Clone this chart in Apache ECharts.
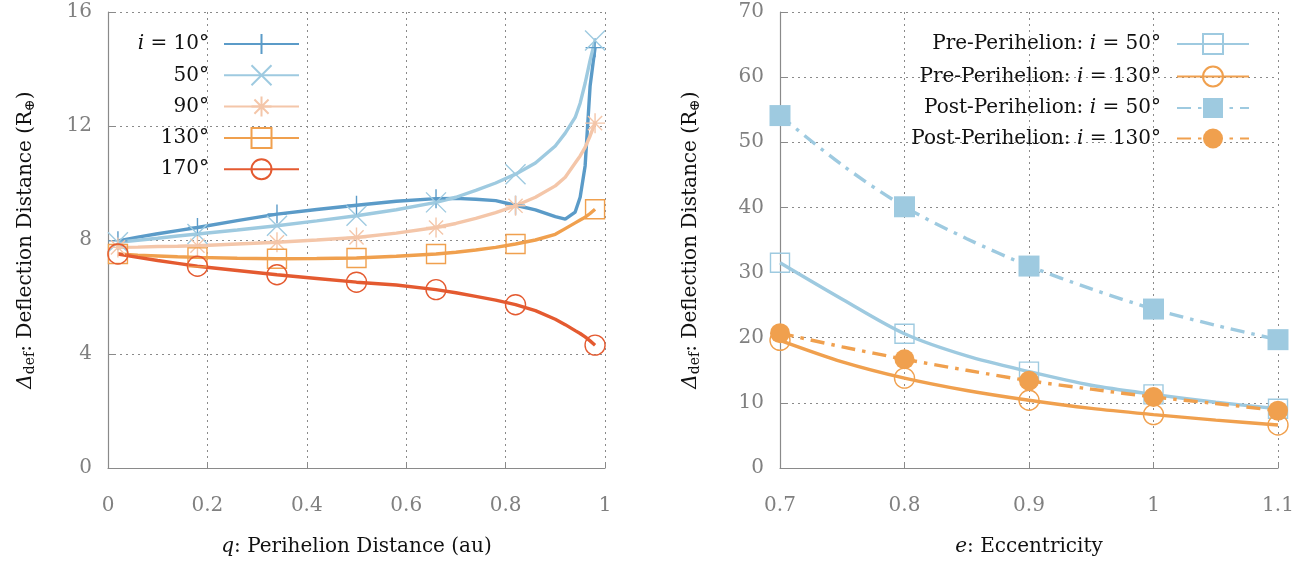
<!DOCTYPE html>
<html><head><meta charset="utf-8">
<script src="https://cdn.jsdelivr.net/npm/echarts@6/dist/echarts.min.js"></script>
<style>html,body{margin:0;padding:0;background:#fff}#c{width:1314px;height:562px}</style>
</head><body><div id="c"></div>
<script>
// ---- Left panel data: deflection distance vs perihelion distance ----
const qGrid = [0.02,0.06,0.10,0.14,0.18,0.26,0.34,0.42,0.50,0.58,0.66,0.70,0.74,0.78,0.82,0.86,0.90,0.92,0.94,0.95,0.96,0.97,0.98];
const markerQ = [0.02,0.18,0.34,0.50,0.66,0.82,0.98];
const inc10  = [7.97,8.10,8.22,8.33,8.44,8.68,8.91,9.07,9.22,9.36,9.45,9.46,9.43,9.38,9.22,9.06,8.82,8.73,8.98,9.50,10.6,13.4,14.75];
const inc50  = [7.92,7.99,8.06,8.14,8.21,8.35,8.50,8.67,8.85,9.06,9.32,9.50,9.74,10.0,10.31,10.70,11.3,11.75,12.3,12.8,13.5,14.3,15.0];
const inc90  = [7.74,7.75,7.77,7.78,7.80,7.86,7.92,8.00,8.09,8.24,8.44,8.58,8.76,8.96,9.20,9.50,9.90,10.2,10.7,10.95,11.25,11.65,12.1];
const inc130 = [7.51,7.47,7.44,7.41,7.39,7.36,7.34,7.35,7.37,7.43,7.51,7.57,7.65,7.74,7.86,8.00,8.20,8.40,8.60,8.70,8.80,8.93,9.08];
const inc170 = [7.51,7.39,7.28,7.18,7.08,6.93,6.78,6.65,6.52,6.42,6.26,6.15,6.02,5.89,5.73,5.52,5.22,5.03,4.82,4.72,4.60,4.46,4.31];
const leftNames = ['10°','50°','90°','130°','170°'];
const leftYTicks = [0,4,8,12,16];

// ---- Right panel data: deflection distance vs eccentricity ----
const eccGrid = [0.70,0.75,0.80,0.85,0.90,0.95,1.00,1.05,1.10];
const markerE = [0.7,0.8,0.9,1.0,1.1];
const pre50   = [31.5,25.9,20.6,17.2,14.8,12.7,11.3,10.1,9.1];
const pre130  = [19.6,16.3,13.8,11.9,10.4,9.15,8.2,7.35,6.6];
const post50  = [54.1,46.5,40.1,35.2,31.0,27.5,24.4,21.9,19.7];
const post130 = [20.7,18.6,16.7,15.0,13.4,12.1,10.9,9.9,8.8];
const rightNames = ['Pre-Perihelion: i = 50°','Pre-Perihelion: i = 130°','Post-Perihelion: i = 50°','Post-Perihelion: i = 130°'];

const FONT = 'DejaVu Serif';
const FS = 20;
const LW = 3.4;
const C = {dblue:'#5b9bc8', lblue:'#9ecae0', peach:'#f4c6a9', orange:'#f0a04e', red:'#e45a30'};
const GRIDC = '#8a8a8a';

const symPlus  = 'path://M0,10L20,10M10,0L10,20';
const symCross = 'path://M0,0L20,20M20,0L0,20';
const symStar  = 'path://M0,10L20,10M10,0L10,20M2.93,2.93L17.07,17.07M17.07,2.93L2.93,17.07';

function withMarkers(grid, markers, vals){
  return grid.map((x,i)=>{
    const isM = markers.some(m=>Math.abs(m-x)<1e-9);
    return isM ? {value:[x,vals[i]]} : {value:[x,vals[i]], symbol:'none'};
  });
}
function leftSeries(name, vals, color, symbol, size){
  return {
    type:'line', name, xAxisIndex:0, yAxisIndex:0,
    data:withMarkers(qGrid, markerQ, vals), symbol, symbolSize:size, showSymbol:true, showAllSymbol:true,
    lineStyle:{color, width:LW},
    itemStyle:{color:'rgba(0,0,0,0)', borderColor:color, borderWidth:1.4},
    emphasis:{disabled:true}, z:2
  };
}
function rightSeries(name, vals, color, symbol, size, filled, dashed){
  return {
    type:'line', name, xAxisIndex:1, yAxisIndex:1,
    data:withMarkers(eccGrid, markerE, vals), symbol, symbolSize:size, showSymbol:true, showAllSymbol:true,
    smooth:0.3,
    lineStyle:{color, width:LW, type: dashed ? [14,7,3.5,7] : 'solid'},
    itemStyle: filled ? {color, borderColor:color, borderWidth:0} : {color:'rgba(0,0,0,0)', borderColor:color, borderWidth:1.4},
    emphasis:{disabled:true}, z: filled?3:2
  };
}

const axisLbl = {color:'#808080', fontFamily:FONT, fontSize:FS};
const nameStyle = {color:'#111', fontFamily:FONT, fontSize:FS,
  rich:{it:{fontStyle:'italic', fontFamily:FONT, fontSize:FS, color:'#111'},
        sub:{fontFamily:FONT, fontSize:14, color:'#111', verticalAlign:'bottom', padding:[9,0,0,0]}}};
const yName = '{it|Δ}{sub|def}: Deflection Distance (R{sub|⊕})';
function xAxisCfg(idx, min, max, interval, name){
  return {type:'value', gridIndex:idx, min, max, interval, name, nameLocation:'middle', nameGap:69,
    nameTextStyle:nameStyle,
    axisLine:{show:true, lineStyle:{color:GRIDC, width:1.2}}, axisTick:{show:true, inside:true, length:6, lineStyle:{color:GRIDC}},
    axisLabel:{...axisLbl, margin:28},
    splitLine:{show:true, lineStyle:{color:GRIDC, type:[2,4], width:1}}};
}
function yAxisCfg(idx, min, max, interval, gap){
  return {type:'value', gridIndex:idx, min, max, interval, name:yName, nameLocation:'middle', nameGap:gap, nameRotate:90,
    nameTextStyle:nameStyle,
    axisLine:{show:true, lineStyle:{color:GRIDC, width:1.2}}, axisTick:{show:true, inside:true, length:6, lineStyle:{color:GRIDC}},
    axisLabel:{...axisLbl, margin:16},
    splitLine:{show:true, lineStyle:{color:GRIDC, type:[2,4], width:1}}};
}

const chart = echarts.init(document.getElementById('c'), null, {renderer:'canvas'});
chart.setOption({
  animation:false,
  backgroundColor:'#fff',
  grid:[{left:108, top:12, width:497, height:458},{left:780, top:12, width:498, height:458}],
  xAxis:[xAxisCfg(0,0,1,0.2,'{it|q}: Perihelion Distance (au)'), xAxisCfg(1,0.7,1.1,0.1,'{it|e}: Eccentricity')],
  yAxis:[yAxisCfg(0,leftYTicks[0],leftYTicks[leftYTicks.length-1],4,71), yAxisCfg(1,0,70,10,78)],
  legend:[
    {data:leftNames, orient:'vertical', right:1014, top:33, padding:0, itemWidth:75, itemHeight:25, itemGap:9.3, align:'right',
     selectedMode:false,
     formatter:(n)=> n==='10°' ? '{it|i} = 10°' : n,
     textStyle:{fontFamily:FONT, fontSize:FS, color:'#111', padding:[0,10,0,0], rich:{it:{fontStyle:'italic', fontFamily:FONT, fontSize:FS, color:'#111'}}}},
    {data:rightNames, orient:'vertical', right:64, top:33, padding:0, itemWidth:72, itemHeight:25, itemGap:10.5, align:'right',
     selectedMode:false,
     formatter:(n)=> n.replace(' i = ', ' {it|i} = '),
     textStyle:{fontFamily:FONT, fontSize:FS, color:'#111', padding:[0,11,0,0], rich:{it:{fontStyle:'italic', fontFamily:FONT, fontSize:FS, color:'#111'}}}}
  ],
  series:[
    leftSeries(leftNames[0], inc10, C.dblue, symPlus, 19),
    leftSeries(leftNames[1], inc50, C.lblue, symCross, 20),
    leftSeries(leftNames[2], inc90, C.peach, symStar, 20),
    leftSeries(leftNames[3], inc130, C.orange, 'rect', 19),
    leftSeries(leftNames[4], inc170, C.red, 'circle', 20),
    rightSeries(rightNames[0], pre50, C.lblue, 'rect', 19, false, false),
    rightSeries(rightNames[1], pre130, C.orange, 'circle', 20, false, false),
    rightSeries(rightNames[2], post50, C.lblue, 'rect', 21, true, true),
    rightSeries(rightNames[3], post130, C.orange, 'circle', 20, true, true)
  ]
});
</script></body></html>
